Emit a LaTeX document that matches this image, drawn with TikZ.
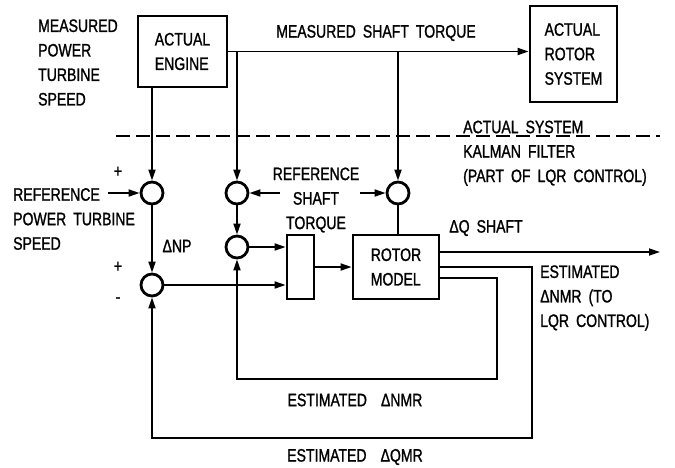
\documentclass[tikz,border=0pt]{standalone}
\usepackage{fontspec}
\setmainfont{Liberation Sans}[FakeStretch=0.78, FakeBold=1.2, WordSpace=1.8]
\usetikzlibrary{arrows.meta}

\begin{document}
\begin{tikzpicture}[x=1pt,y=-1pt,font=\fontsize{18}{24.5}\selectfont]
        % Estilos de bloques y senales
        \tikzset{bloque/.style={draw=black, line width=2.8pt, inner sep=0pt, align=left},
                 suma/.style={circle, draw=black, line width=2.8pt, minimum size=22pt, inner sep=0pt},
                 senal/.style={-{Triangle[length=11pt,width=7pt]}, line width=1.7pt},
                 linea/.style={line width=1.7pt},
                 texto/.style={inner sep=0pt, align=left}}
        \useasboundingbox (0,0) rectangle (675,467);

        % --- SISTEMA REAL ---
        \node[bloque, minimum width=89pt, minimum height=71pt] (engine) at (182.5,51.5) {ACTUAL\\ENGINE};
        \node[bloque, minimum width=87pt, minimum height=96pt] (rotor) at (573.5,54) {ACTUAL\\ROTOR\\SYSTEM};
        \node[texto, anchor=west] (npmeas) at (38,62.5) {MEASURED\\POWER\\TURBINE\\SPEED};
        \node[texto] (qmeas) at (376,33) {MEASURED SHAFT TORQUE};
        \draw[senal] (engine.east) -- (engine.east -| rotor.west);

        % --- FRONTERA ---
        \draw[line width=1.7pt, dash pattern=on 14pt off 6pt] (116,136) -- (660,136);
        \node[texto, anchor=west] (actual) at (463,127) {ACTUAL SYSTEM};
        \node[texto, anchor=north west] (kalman) at (463,145) {KALMAN FILTER\\(PART OF LQR CONTROL)};

        % --- FILTRO DE KALMAN ---
        \node[suma] (s1) at (152,193) {};
        \node[suma] (s2) at (237,193) {};
        \node[suma] (s5) at (398,193) {};
        \node[suma] (s4) at (237,247) {};
        \node[suma] (s3) at (152,285) {};
        \node[bloque, minimum width=27pt, minimum height=64pt] (gain) at (300.5,267) {};
        \node[bloque, minimum width=86pt, minimum height=64pt] (model) at (396,267) {ROTOR\\MODEL};
        \coordinate (refnp) at (108,193);
        \coordinate (refq) at (280,193);
        \coordinate (refq2) at (360,193);
        \coordinate (nmrout) at (660,252);

        \draw[senal] (s1 |- engine.south) -- (s1.north);
        \draw[senal] (engine.east -| s2) -- (s2.north);
        \draw[senal] (engine.east -| s5) -- (s5.north);
        \draw[senal] (refnp) -- (s1.west);
        \draw[senal] (refq) -- (s2.east);
        \draw[senal] (refq2) -- (s5.west);
        \draw[senal] (s1.south) -- (s3.north);
        \draw[senal] (s2.south) -- (s4.north);
        \draw[linea] (s5.south) -- (s5 |- model.north);
        \draw[senal] (s4.east) -- (s4 -| gain.west);
        \draw[senal] (s3.east) -- (s3 -| gain.west);
        \draw[senal] (gain.east) -- (model.west);
        \draw[senal] (model.east |- nmrout) -- (nmrout);
        \draw[senal] (model.east |- 0,267) -| (532,438) -| (s3.south);
        \draw[senal] (model.east |- 0,278) -| (497,379) -| (s4.south);

        % Etiquetas
        \node[texto, anchor=west] (refnplbl) at (13,219) {REFERENCE\\POWER TURBINE\\SPEED};
        \node[texto, align=center] (refqlbl) at (316,200) {REFERENCE\\SHAFT\\TORQUE};
        \node[texto] (p1) at (118,172) {+};
        \node[texto] (p2) at (118,267) {+};
        \node[texto] (m1) at (118,300) {-};
        \node[texto] (dnp) at (177,246) {ΔNP};
        \node[texto] (dq) at (486,228) {ΔQ SHAFT};
        \node[texto, anchor=west] (nmrlbl) at (540,298) {ESTIMATED\\ΔNMR (TO\\LQR CONTROL)};
        \node[texto] (nmrfb) at (355,400) {ESTIMATED \ ΔNMR};
        \node[texto] (qmrfb) at (355,457) {ESTIMATED \ ΔQMR};
\end{tikzpicture}
\end{document}
